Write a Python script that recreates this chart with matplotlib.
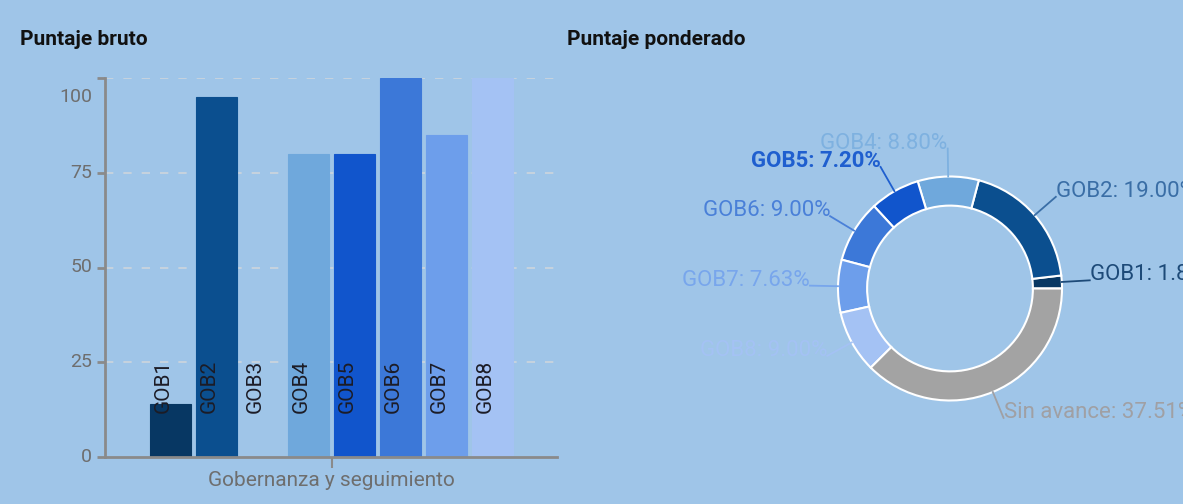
import matplotlib

matplotlib.use("Agg")
import matplotlib.pyplot as plt
import numpy as np

plt.rcParams["font.family"] = ["Roboto", "DejaVu Sans"]

# -- data --
bar_names = ["GOB1", "GOB2", "GOB3", "GOB4", "GOB5", "GOB6", "GOB7", "GOB8"]
bar_values = [14, 95, 0, 80, 80, 100, 85, 100]
category = "Gobernanza y seguimiento"
y_ticks = [0, 25, 50, 75, 100]

pie_names = ["GOB1", "GOB2", "GOB3", "GOB4", "GOB5", "GOB6", "GOB7", "GOB8", "Sin avance"]
pie_values = [1.86, 19.00, 0.0, 8.80, 7.20, 9.00, 7.63, 9.00, 37.51]

# -- styles --
bg = "#9fc5e8"
colors = ["#073763", "#0b4f8f", "#3d85c6", "#6fa8dc", "#1155cc",
          "#3c78d8", "#6d9eeb", "#a4c2f4", "#a3a3a3"]
label_colors = ["#1d4a78", "#3a6ea6", "#3d85c6", "#7eb1e0", "#1f5fcf",
                "#4a80d8", "#78a6ec", "#a4c2f4", "#a0a0a4"]
axis_gray = "#8a8a8a"
text_gray = "#6e6e6e"

W, H = 1183, 504
fig = plt.figure(figsize=(W / 100, H / 100), dpi=100, facecolor=bg)

# ---------------- bars ----------------
ax = fig.add_axes([105 / W, 1 - 457 / H, (557 - 105) / W, (457 - 78) / H])
ax.set_facecolor(bg)
x = np.arange(len(bar_names))
ax.bar(x, bar_values, width=0.89, color=colors[:len(bar_names)],
       edgecolor=[c for c in colors[:len(bar_names)]], linewidth=0.8, zorder=2)
ax.set_xlim(-1.43, 8.40)
ax.set_ylim(0, 100)

for i, name in enumerate(bar_names):
    ax.text(i - 0.17, 11.7, name, rotation=90, ha="center", va="bottom",
            fontsize=15, color="#1c1c26", zorder=3)

for v in y_ticks[1:]:
    ax.axhline(v, color="#cdd5dd", lw=1.2, dashes=(5, 6), zorder=1)

ax.set_yticks(y_ticks)
ax.set_yticklabels([])
ax.tick_params(axis="y", length=6, width=2, color=axis_gray)
for v in y_ticks:
    dy = -19 if v == 100 else 0
    ax.annotate(str(v), xy=(0, v), xycoords=("axes fraction", "data"),
                xytext=(-13, dy), textcoords="offset pixels",
                ha="right", va="center", fontsize=14, color=text_gray,
                annotation_clip=False)

ax.set_xticks([(len(bar_names) - 1) / 2])
ax.set_xticklabels([category], fontsize=15, color=text_gray)
ax.tick_params(axis="x", length=8, width=1.5, color=axis_gray, pad=2)

for s in ["top", "right"]:
    ax.spines[s].set_visible(False)
for s in ["left", "bottom"]:
    ax.spines[s].set_color(axis_gray)
    ax.spines[s].set_linewidth(2)

fig.text(20 / W, 1 - 40 / H, "Puntaje bruto", fontsize=15, fontweight="bold",
         color="#111111", ha="left", va="center")
fig.text(567 / W, 1 - 40 / H, "Puntaje ponderado", fontsize=15, fontweight="bold",
         color="#111111", ha="left", va="center")

# ---------------- donut ----------------
cx, cy, R = 950, 288.5, 112
ax2 = fig.add_axes([(cx - R) / W, 1 - (cy + R) / H, 2 * R / W, 2 * R / H])
keep = [i for i, v in enumerate(pie_values) if v > 0]
ax2.pie([pie_values[i] for i in keep], colors=[colors[i] for i in keep],
        startangle=0, counterclock=True, radius=1,
        wedgeprops=dict(width=0.26, edgecolor="white", linewidth=1.5))
ax2.set_xlim(-1, 1)
ax2.set_ylim(-1, 1)
ax2.set_aspect("equal")
ax2.axis("off")

total = sum(pie_values)
start = 0.0
for i, (name, v) in enumerate(zip(pie_names, pie_values)):
    if v <= 0:
        continue
    mid = np.deg2rad(start + v / total * 360 / 2)
    start += v / total * 360
    x0, y0 = np.cos(mid), np.sin(mid)
    x1, y1 = 1.25 * np.cos(mid), 1.25 * np.sin(mid)
    ax2.plot([x0, x1], [y0, y1], color=label_colors[i], lw=1.3, clip_on=False)
    ha = "left" if np.cos(mid) > 0 else "right"
    weight = "bold" if name == "GOB5" else "normal"
    ax2.text(x1, y1, f"{name}: {v:.2f}%", ha=ha, va="baseline", fontsize=16,
             color=label_colors[i], fontweight=weight, clip_on=False)

fig.savefig("out.png", dpi=100, facecolor=bg)
